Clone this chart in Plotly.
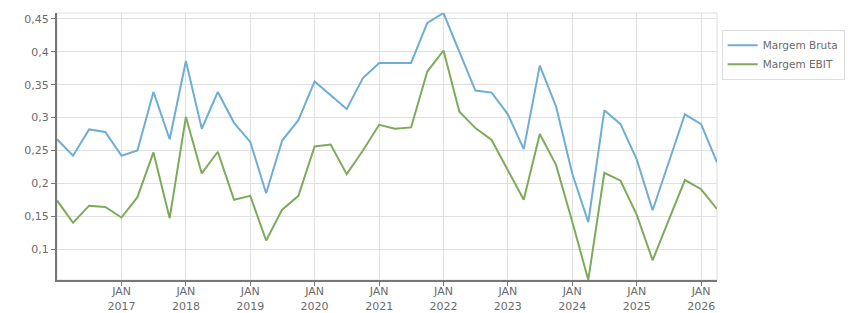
import plotly.graph_objects as go
import pandas as pd

dates = pd.date_range("2016-01-01", periods=42, freq="QS").strftime("%Y-%m-%d").tolist()

margem_bruta = [0.267, 0.242, 0.282, 0.278, 0.242, 0.250, 0.339, 0.267, 0.386, 0.283,
                0.339, 0.292, 0.263, 0.185, 0.265, 0.296, 0.355, 0.334, 0.313, 0.360,
                0.383, 0.383, 0.383, 0.444, 0.459, 0.400, 0.341, 0.338, 0.305, 0.252,
                0.379, 0.317, 0.215, 0.141, 0.311, 0.290, 0.236, 0.159, 0.232, 0.305,
                0.290, 0.232]
margem_ebit = [0.174, 0.140, 0.166, 0.164, 0.148, 0.179, 0.247, 0.147, 0.301, 0.215,
               0.248, 0.175, 0.181, 0.113, 0.160, 0.181, 0.256, 0.259, 0.214, 0.250,
               0.289, 0.283, 0.285, 0.370, 0.402, 0.309, 0.284, 0.266, 0.220, 0.175,
               0.275, 0.228, 0.142, 0.053, 0.216, 0.204, 0.152, 0.083, 0.144, 0.205,
               0.191, 0.161]

tick_years = list(range(2017, 2027))
tick_vals = [f"{y}-01-01" for y in tick_years]
tick_text = [f"JAN<br>{y}" for y in tick_years]
y_ticks = [0.1, 0.15, 0.2, 0.25, 0.3, 0.35, 0.4, 0.45]

fig = go.Figure()
fig.add_trace(go.Scatter(x=dates, y=margem_bruta, mode="lines", name="Margem Bruta",
                         line=dict(color="#6eaed3", width=2)))
fig.add_trace(go.Scatter(x=dates, y=margem_ebit, mode="lines", name="Margem EBIT",
                         line=dict(color="#7dab5b", width=2)))

all_vals = margem_bruta + margem_ebit
fig.update_layout(
    width=851, height=313,
    margin=dict(l=57, r=134, t=13, b=33),
    paper_bgcolor="white", plot_bgcolor="white",
    separators=",.",
    font=dict(family="DejaVu Sans, Verdana, sans-serif", size=11, color="#6b6b6b"),
    showlegend=True,
    legend=dict(xref="container", yref="container", x=0.848, y=0.905,
                xanchor="left", yanchor="top",
                bordercolor="#dddddd", borderwidth=1, bgcolor="white",
                font=dict(size=10.5, color="#6b6b6b"), itemwidth=30,
                tracegroupgap=0),
    shapes=[dict(type="rect", xref="paper", yref="paper", x0=0, x1=1, y0=0, y1=1,
                 line=dict(color="#dddddd", width=1), layer="below")],
)
fig.update_xaxes(type="date", range=[dates[0], dates[-1]],
                 tickvals=tick_vals, ticktext=tick_text, automargin=False,
                 showgrid=True, gridcolor="#e0e0e0", gridwidth=1,
                 showline=True, linecolor="#777777", linewidth=2,
                 ticks="outside", ticklen=4, tickcolor="#777777",
                 ticklabelstandoff=-4,
                 tickfont=dict(size=11, color="#6b6b6b"), zeroline=False)
fig.update_yaxes(range=[min(all_vals), max(all_vals)],
                 tickvals=y_ticks, automargin=False,
                 showgrid=True, gridcolor="#e0e0e0", gridwidth=1,
                 showline=True, linecolor="#777777", linewidth=2,
                 ticks="outside", ticklen=4, tickcolor="#777777",
                 tickfont=dict(size=11, color="#6b6b6b"), zeroline=False)

fig.write_html("out.html")
